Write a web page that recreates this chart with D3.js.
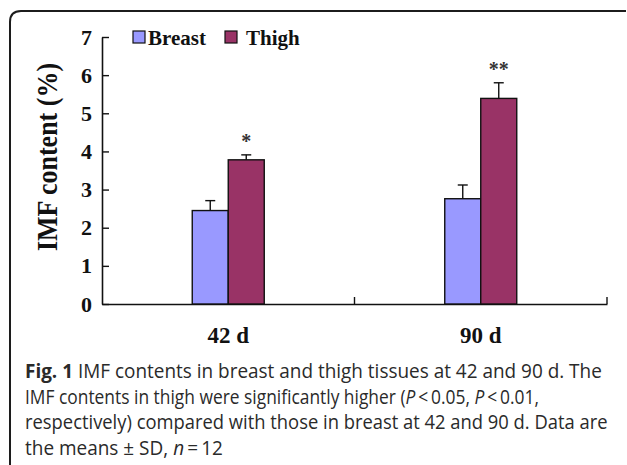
<!DOCTYPE html>
<html>
<head>
<meta charset="utf-8">
<script src="https://cdn.jsdelivr.net/npm/d3@7"></script>
<style>
  html, body { margin: 0; padding: 0; background: #fff; }
  svg { display: block; }
</style>
</head>
<body>
<svg id="chart" width="627" height="465"></svg>
<script>
// IMF content (%) by age and tissue, means with SD error bars
const ages = ["42 d", "90 d"];
const tissues = ["Breast", "Thigh"];
const breastMeans = [2.45, 2.76];
const breastSD = [0.26, 0.36];
const thighMeans = [3.78, 5.39];
const thighSD = [0.13, 0.41];
const significance = ["*", "**"];
const yTicks = [0, 1, 2, 3, 4, 5, 6, 7];
const tissueColors = ["#9999ff", "#993366"];

const series = [
  { name: tissues[0], means: breastMeans, sd: breastSD, color: tissueColors[0] },
  { name: tissues[1], means: thighMeans, sd: thighSD, color: tissueColors[1] }
];

const svg = d3.select("#chart");
const serif = "'Liberation Serif', 'Times New Roman', serif";
const sans = "'Open Sans', 'Noto Sans', sans-serif";

// panel frame with a rounded top-left corner
svg.append("path")
  .attr("d", "M10,470 V22 Q10,11 21,11 H626")
  .attr("fill", "none")
  .attr("stroke", "#1c1c1c")
  .attr("stroke-width", 2);

const plot = { left: 102, right: 607, top: 37, bottom: 304 };

const y = d3.scaleLinear().domain([0, 7]).range([plot.bottom, plot.top]);
const x = d3.scaleBand().domain(ages).range([plot.left, plot.right]).padding(0);
const barW = 36;

// y axis, ticks pointing into the plot
const yAxis = svg.append("g")
  .attr("transform", `translate(${plot.left},0)`)
  .call(d3.axisLeft(y).tickValues(yTicks).tickFormat(d3.format("d"))
    .tickSizeInner(-7).tickSizeOuter(0).tickPadding(10));
yAxis.select(".domain").attr("stroke", "#111").attr("stroke-width", 1.6);
yAxis.selectAll(".tick line").attr("stroke", "#111").attr("stroke-width", 1.4);
yAxis.selectAll(".tick text")
  .attr("font-family", serif)
  .attr("font-weight", "bold")
  .attr("font-size", 22)
  .attr("fill", "#111");

// x axis with tick marks at the category boundaries
const xAxis = svg.append("g")
  .attr("transform", `translate(0,${plot.bottom})`)
  .call(d3.axisBottom(x).tickSize(0).tickPadding(23));
xAxis.select(".domain").attr("stroke", "#111").attr("stroke-width", 1.6);
xAxis.selectAll(".tick text")
  .attr("font-family", serif)
  .attr("font-weight", "bold")
  .attr("font-size", 23)
  .attr("fill", "#111");
xAxis.selectAll(".boundary")
  .data(ages)
  .enter().append("line")
  .attr("x1", d => x(d) + x.bandwidth())
  .attr("x2", d => x(d) + x.bandwidth())
  .attr("y1", 0).attr("y2", -7)
  .attr("stroke", "#111").attr("stroke-width", 1.4);

// bars
series.forEach((s, si) => {
  const g = svg.append("g");
  const bx = (i) => x(ages[i]) + x.bandwidth() / 2 - barW + si * barW;
  g.selectAll("rect")
    .data(s.means)
    .enter().append("rect")
    .attr("x", (d, i) => bx(i))
    .attr("y", d => y(d))
    .attr("width", barW)
    .attr("height", d => y(0) - y(d))
    .attr("fill", s.color)
    .attr("stroke", "#111")
    .attr("stroke-width", 1.4);

  // error bars (upper half)
  s.means.forEach((m, i) => {
    const cx = bx(i) + barW / 2;
    g.append("line")
      .attr("x1", cx).attr("x2", cx)
      .attr("y1", y(m)).attr("y2", y(m + s.sd[i]))
      .attr("stroke", "#111").attr("stroke-width", 1.4);
    g.append("line")
      .attr("x1", cx - 5).attr("x2", cx + 5)
      .attr("y1", y(m + s.sd[i])).attr("y2", y(m + s.sd[i]))
      .attr("stroke", "#111").attr("stroke-width", 1.4);
  });
});

// significance marks above the thigh bars
svg.append("g").selectAll("text")
  .data(significance)
  .enter().append("text")
  .attr("x", (d, i) => x(ages[i]) + x.bandwidth() / 2 + barW / 2)
  .attr("y", (d, i) => y(thighMeans[i] + thighSD[i]) - 7)
  .attr("text-anchor", "middle")
  .attr("font-family", serif)
  .attr("font-weight", "bold")
  .attr("font-size", 20)
  .attr("fill", "#333")
  .text(d => d);

// y axis title
svg.append("text")
  .attr("transform", "translate(47,157) rotate(-90) scale(1,1.15)")
  .attr("text-anchor", "middle")
  .attr("dy", "0.35em")
  .attr("font-family", serif)
  .attr("font-weight", "bold")
  .attr("font-size", 26)
  .attr("fill", "#111")
  .text("IMF content (%)");

// legend
const legendX = [133, 225];
const legend = svg.append("g");
series.forEach((s, i) => {
  legend.append("rect")
    .attr("x", legendX[i]).attr("y", 31)
    .attr("width", 12).attr("height", 12)
    .attr("fill", s.color)
    .attr("stroke", "#111").attr("stroke-width", 1.2);
  legend.append("text")
    .attr("x", legendX[i] + (i === 0 ? 15 : 21)).attr("y", 45)
    .attr("font-family", serif)
    .attr("font-weight", "bold")
    .attr("font-size", 21)
    .attr("fill", "#111")
    .text(s.name);
});

// figure caption; each line is condensed to its set width
const thin = "\u2009";
const captionLines = [
  [{ t: "Fig. 1", b: true }, { t: " IMF contents in breast and thigh tissues at 42 and 90 d. The" }],
  [{ t: "IMF contents in thigh were significantly higher (" }, { t: "P", i: true }, { t: `${thin}<${thin}0.05, ` }, { t: "P", i: true }, { t: `${thin}<${thin}0.01,` }],
  [{ t: "respectively) compared with those in breast at 42 and 90 d. Data are" }],
  [{ t: `the means ± SD, ` }, { t: "n", i: true }, { t: `${thin}=${thin}12` }]
];
const captionWidths = [577, 514, 583, 198];
const caption = svg.append("g")
  .attr("font-family", sans)
  .attr("font-size", 19.5)
  .attr("fill", "#2a2a2a");
captionLines.forEach((parts, li) => {
  const t = caption.append("text")
    .attr("x", 0)
    .attr("y", 0)
    .attr("xml:space", "preserve");
  parts.forEach(p => {
    t.append("tspan")
      .attr("font-weight", p.b ? "bold" : null)
      .attr("font-style", p.i ? "italic" : null)
      .text(p.t);
  });
  const w = t.node().getComputedTextLength();
  const sx = captionWidths[li] / w;
  t.attr("transform", `translate(25,${378 + li * 25.7}) scale(${sx},1)`);
});
</script>
</body>
</html>
